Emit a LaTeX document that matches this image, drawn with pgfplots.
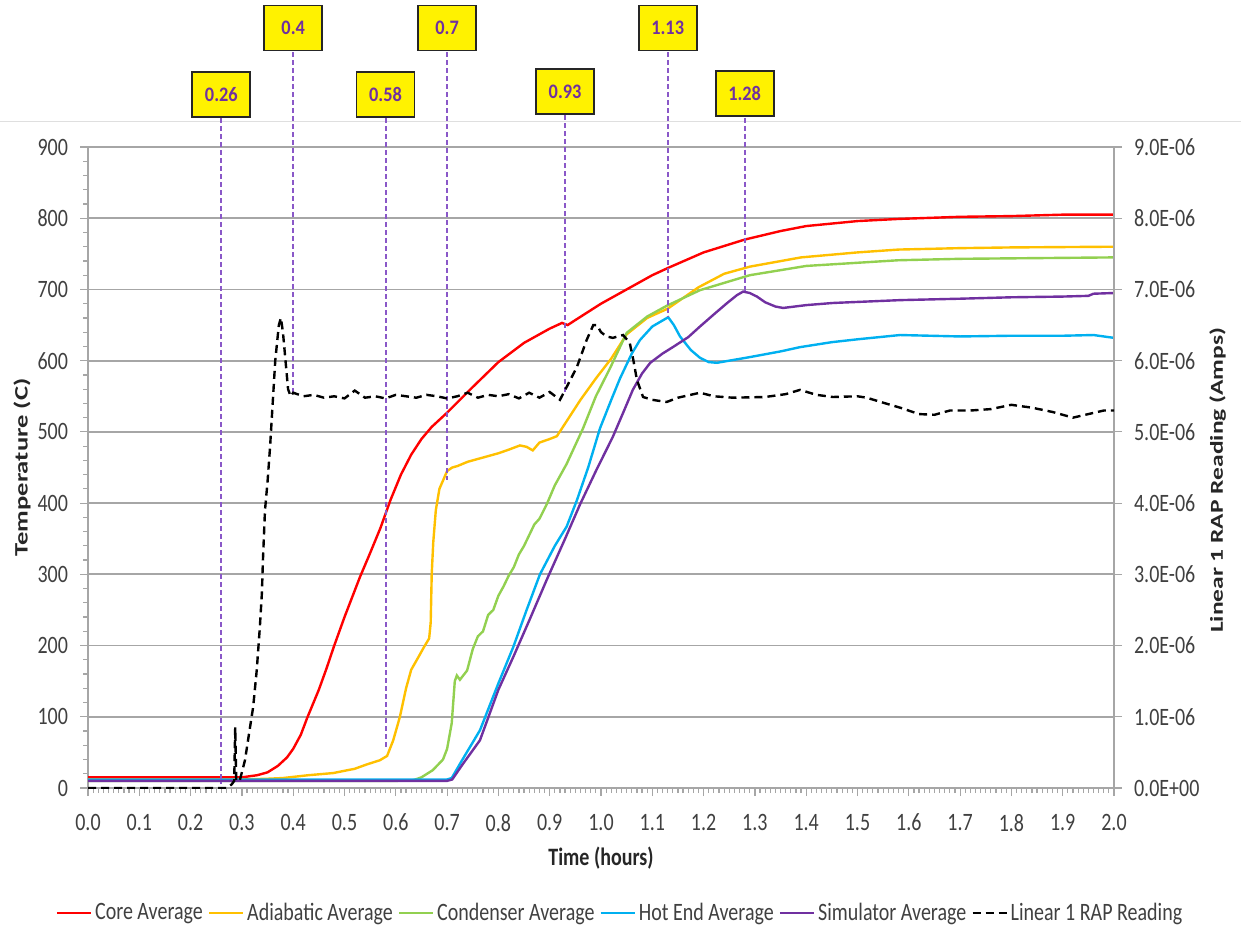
\documentclass[border=0pt]{standalone}
\usepackage{pgfplots}
\pgfplotsset{compat=1.18}
\usepackage{fontspec}
\setmainfont{Carlito}[FakeStretch=0.8]
\newfontfamily\rotfont{Carlito}[FakeStretch=1.4]
\newfontfamily\callfont{Carlito}[FakeStretch=0.89]
\definecolor{cCore}{HTML}{FF0000}
\definecolor{cAdia}{HTML}{FFC000}
\definecolor{cCond}{HTML}{92D050}
\definecolor{cHot}{HTML}{00B0F0}
\definecolor{cSim}{HTML}{7030A0}
\definecolor{cCall}{HTML}{7030A0}
\definecolor{cLine}{HTML}{8A58C8}
\definecolor{gridc}{HTML}{A6A6A6}
\definecolor{txt}{HTML}{404040}
\begin{document}
\begin{tikzpicture}[x=1pt,y=1pt]
\path[use as bounding box] (0,0) rectangle (620.5,466.5);
\draw[gray!25, line width=0.5pt] (0,405.5) -- (620.5,405.5);
\begin{axis}[
  at={(44pt,72.5pt)}, anchor=south west,
  scale only axis, width=513pt, height=320.5pt,
  xmin=0, xmax=2, ymin=0, ymax=900,
  clip=false,
  axis y line*=left, axis x line*=bottom,
  axis line style={gridc, line width=0.8pt},
  xtick={0,0.1,0.2,0.3,0.4,0.5,0.6,0.7,0.8,0.9,1.0,1.1,1.2,1.3,1.4,1.5,1.6,1.7,1.8,1.9,2.0},
  minor x tick num=9,
  ytick={0,100,200,300,400,500,600,700,800,900},
  minor y tick num=4,
  tick align=outside,
  major tick length=4pt, minor tick length=2.5pt,
  every tick/.style={gridc, line width=0.6pt},
  ymajorgrids, grid style={gridc, line width=0.9pt},
  /pgf/number format/assume math mode=true,
  xticklabel style={/pgf/number format/.cd, fixed, fixed zerofill, precision=1, /tikz/.cd, yshift=-5.5pt},
  yticklabel style={/pgf/number format/.cd, fixed, precision=0, /tikz/.cd, xshift=-2.5pt},
  ticklabel style={font=\fontsize{12.5}{14}\selectfont, text=txt},
  xlabel={Time (hours)}, ylabel={\rotfont Temperature (C)},
  label style={font=\bfseries\fontsize{12.5}{14}\selectfont, text=black!85},
  xlabel style={at={(axis description cs:0.5,-0.109)}, anchor=center},
  ylabel style={font=\bfseries\fontsize{9.5}{11}\selectfont, at={(axis description cs:-0.0643,0.5)}, anchor=center},
  legend style={at={(axis description cs:0.5185,-0.195)}, anchor=center, legend columns=6, draw=none, fill=none,
    font=\fontsize{12.5}{14}\selectfont, text=txt,
    nodes={inner xsep=1pt},
    /tikz/every even column/.append style={column sep=1.5pt},
    /tikz/every odd column/.append style={column sep=0.5pt}},
  legend image code/.code={\draw[#1] (0pt,0pt) -- (17pt,0pt);},
  every axis plot/.append style={line width=1.2pt},
]
\addplot[cCore] coordinates {
(0,15)(0.1,15)(0.2,15)(0.3,15)(0.33,18)(0.35,22)(0.37,31)(0.388,43)(0.40,55)(0.415,75)(0.427,98)(0.45,138)(0.465,168)(0.48,200)(0.50,240)(0.53,296)(0.55,330)(0.57,365)(0.59,405)(0.61,440)(0.63,468)(0.65,490)(0.67,507)(0.70,527)(0.75,563)(0.80,598)(0.85,625)(0.90,645)(0.924,653)(0.935,650)(0.95,657)(1.0,680)(1.05,700)(1.10,720)(1.13,730)(1.2,752)(1.28,770)(1.35,782)(1.4,789)(1.5,796)(1.58,799)(1.7,802)(1.8,803)(1.85,804)(1.9,805)(2.0,805)};
\addlegendentry{Core Average}
\addplot[cAdia] coordinates {
(0,12)(0.3,12)(0.35,13)(0.38,14)(0.43,18)(0.478,21)(0.52,27)(0.543,33)(0.569,39)(0.583,45)(0.595,67)(0.608,100)(0.62,140)(0.63,166)(0.645,185)(0.655,198)(0.665,210)(0.668,232)(0.670,300)(0.673,345)(0.678,390)(0.685,420)(0.70,445)(0.71,450)(0.72,452)(0.74,458)(0.76,462)(0.78,466)(0.80,470)(0.82,475)(0.842,481)(0.855,479)(0.867,474)(0.88,485)(0.90,490)(0.914,494)(0.933,515)(0.96,545)(0.99,575)(1.02,603)(1.05,637)(1.09,660)(1.13,673)(1.19,703)(1.24,722)(1.29,732)(1.39,745)(1.5,752)(1.58,756)(1.7,758)(1.8,759)(2.0,760)};
\addlegendentry{Adiabatic Average}
\addplot[cCond] coordinates {
(0,10)(0.6,10)(0.634,11)(0.65,15)(0.672,25)(0.692,40)(0.70,55)(0.709,91)(0.715,150)(0.719,158)(0.725,152)(0.739,165)(0.75,195)(0.76,213)(0.77,220)(0.78,243)(0.79,250)(0.80,270)(0.81,283)(0.82,298)(0.83,310)(0.84,328)(0.85,340)(0.86,355)(0.87,370)(0.88,378)(0.894,398)(0.91,425)(0.933,455)(0.965,505)(0.99,550)(1.018,590)(1.05,639)(1.09,662)(1.128,677)(1.193,699)(1.29,720)(1.4,733)(1.58,741)(1.7,743)(2.0,745)};
\addlegendentry{Condenser Average}
\addplot[cHot] coordinates {
(0,12)(0.70,12)(0.709,14)(0.73,40)(0.764,81)(0.8,147)(0.829,198)(0.855,250)(0.881,300)(0.91,340)(0.933,367)(0.953,404)(0.975,450)(0.998,505)(1.02,545)(1.037,575)(1.06,610)(1.076,629)(1.10,648)(1.131,661)(1.142,650)(1.154,634)(1.175,615)(1.193,604)(1.21,598)(1.226,597)(1.25,600)(1.29,605)(1.35,613)(1.388,619)(1.45,626)(1.5,630)(1.583,636)(1.7,634)(1.8,635)(1.9,635)(1.96,636)(1.98,634)(2.0,632)};
\addlegendentry{Hot End Average}
\addplot[cSim] coordinates {
(0,10)(0.70,10)(0.71,12)(0.73,33)(0.764,67)(0.8,138)(0.829,184)(0.86,235)(0.894,292)(0.93,350)(0.959,398)(0.99,445)(1.023,493)(1.045,530)(1.062,559)(1.08,582)(1.096,597)(1.12,610)(1.14,619)(1.17,633)(1.193,648)(1.22,665)(1.246,681)(1.265,692)(1.277,697)(1.29,695)(1.304,690)(1.32,682)(1.34,676)(1.355,674)(1.4,678)(1.452,681)(1.583,685)(1.7,687)(1.8,689)(1.9,690)(1.95,691)(1.96,694)(2.0,695)};
\addlegendentry{Simulator Average}
\addlegendimage{black, line width=1.2pt, dash pattern=on 4pt off 2.5pt}
\addlegendentry{Linear 1 RAP Reading}
% callouts
\foreach \xv/\yb/\ye in {0.26/974/5, 0.4/1067/552, 0.58/974/55, 0.7/1067/432, 0.93/978/555, 1.13/1067/661, 1.28/975/698}{
  \edef\tmp{\noexpand\draw[cLine, line width=1pt, dash pattern=on 2.5pt off 1.5pt] (axis cs:\xv,\yb) -- (axis cs:\xv,\ye);}\tmp
}
\foreach \xv/\yb in {0.26/974, 0.4/1067, 0.58/974, 0.7/1067, 0.93/978, 1.13/1067, 1.28/975}{
  \edef\tmp{\noexpand\node[draw=black!85, line width=0.9pt, fill=yellow, text=cCall, font=\noexpand\callfont\noexpand\bfseries\noexpand\fontsize{10.3}{11}\noexpand\selectfont, minimum width=29pt, minimum height=22.5pt, inner sep=0pt] at (axis cs:\xv,\yb) {\xv};}\tmp
}
\end{axis}
\begin{axis}[
  at={(44pt,72.5pt)}, anchor=south west,
  scale only axis, width=513pt, height=320.5pt,
  xmin=0, xmax=2, ymin=0, ymax=9e-6,
  axis y line*=right, axis x line=none,
  axis line style={gridc, line width=0.8pt},
  scaled y ticks=false,
  ytick={0,1e-6,2e-6,3e-6,4e-6,5e-6,6e-6,7e-6,8e-6,9e-6},
  yticklabels={0.0E+00,1.0E-06,2.0E-06,3.0E-06,4.0E-06,5.0E-06,6.0E-06,7.0E-06,8.0E-06,9.0E-06},
  tick align=outside, major tick length=4pt,
  every tick/.style={gridc, line width=0.6pt},
  yticklabel style={font=\fontsize{12.5}{14}\selectfont, text=txt, xshift=2.5pt},
  ylabel={\rotfont Linear 1 RAP Reading (Amps)},
  ylabel style={font=\bfseries\fontsize{9.1}{11}\selectfont, text=black!85, at={(axis description cs:1.101,0.48)}, anchor=center},
]
\addplot[black, line width=1.2pt, dash pattern=on 4pt off 2.5pt] coordinates {
(0,0)(0.27,0)(0.28,0.05e-6)(0.285,0.1e-6)(0.287,0.85e-6)(0.289,0.1e-6)(0.296,0.11e-6)(0.306,0.39e-6)(0.316,0.86e-6)(0.322,1.14e-6)(0.329,1.66e-6)(0.335,2.26e-6)(0.339,2.74e-6)(0.341,3.2e-6)(0.345,3.9e-6)(0.350,4.3e-6)(0.355,4.8e-6)(0.36,5.4e-6)(0.365,6.0e-6)(0.372,6.5e-6)(0.376,6.6e-6)(0.38,6.4e-6)(0.385,6.0e-6)(0.39,5.6e-6)(0.395,5.5e-6)(0.40,5.55e-6)(0.42,5.5e-6)(0.44,5.52e-6)(0.46,5.48e-6)(0.48,5.5e-6)(0.50,5.47e-6)(0.52,5.58e-6)(0.54,5.48e-6)(0.56,5.5e-6)(0.58,5.47e-6)(0.60,5.52e-6)(0.62,5.5e-6)(0.64,5.48e-6)(0.66,5.52e-6)(0.68,5.5e-6)(0.70,5.47e-6)(0.72,5.5e-6)(0.74,5.55e-6)(0.76,5.48e-6)(0.78,5.52e-6)(0.80,5.5e-6)(0.82,5.53e-6)(0.84,5.47e-6)(0.86,5.55e-6)(0.88,5.48e-6)(0.90,5.56e-6)(0.92,5.45e-6)(0.933,5.63e-6)(0.953,5.91e-6)(0.972,6.29e-6)(0.985,6.5e-6)(0.992,6.5e-6)(1.0,6.4e-6)(1.011,6.34e-6)(1.023,6.32e-6)(1.043,6.36e-6)(1.056,6.25e-6)(1.063,6.01e-6)(1.07,5.73e-6)(1.082,5.49e-6)(1.10,5.45e-6)(1.128,5.42e-6)(1.15,5.48e-6)(1.193,5.55e-6)(1.22,5.5e-6)(1.257,5.48e-6)(1.32,5.49e-6)(1.36,5.53e-6)(1.388,5.59e-6)(1.42,5.52e-6)(1.452,5.49e-6)(1.5,5.5e-6)(1.518,5.48e-6)(1.55,5.41e-6)(1.583,5.34e-6)(1.62,5.25e-6)(1.65,5.24e-6)(1.68,5.3e-6)(1.72,5.3e-6)(1.76,5.32e-6)(1.8,5.38e-6)(1.84,5.34e-6)(1.88,5.28e-6)(1.92,5.2e-6)(1.95,5.25e-6)(1.98,5.3e-6)(2.0,5.3e-6)};
\end{axis}
\end{tikzpicture}
\end{document}
